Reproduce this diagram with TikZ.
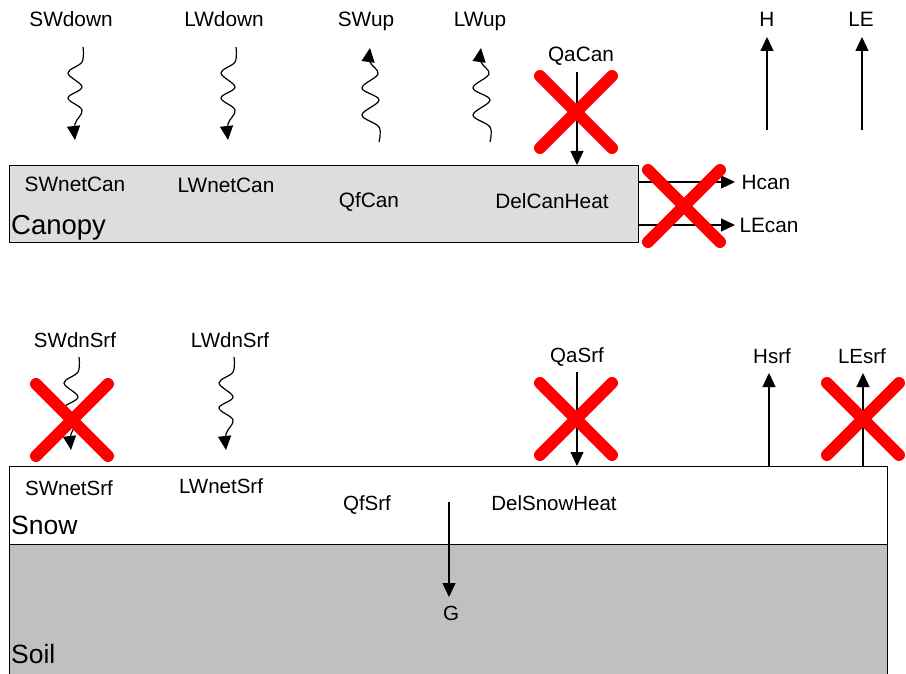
\documentclass[tikz,border=0pt]{standalone}
\usepackage{fontspec}
\setmainfont{Liberation Sans}
\usetikzlibrary{arrows.meta}
\definecolor{cangray}{HTML}{DDDDDD}
\definecolor{soilgray}{HTML}{C0C0C0}
\begin{document}
\begin{tikzpicture}[x=1pt,y=-1pt,
  lbl/.style={inner sep=0pt,text height=14.7pt,text depth=0pt,font=\fontsize{20.8}{22}\selectfont},
  inlbl/.style={inner sep=0pt,text height=14.7pt,text depth=0pt,font=\fontsize{20.8}{22}\selectfont},
  botlbl/.style={inner sep=0pt,text height=14.7pt,text depth=0pt,font=\fontsize{20.5}{22}\selectfont},
  canlbl/.style={inner sep=0pt,text height=19.6pt,text depth=0pt,anchor=west,font=\fontsize{27.5}{29}\selectfont},
  biglbl/.style={inner sep=0pt,text height=18.9pt,text depth=0pt,anchor=west,font=\fontsize{26.5}{28}\selectfont},
  layer/.style={draw=black,line width=1.2pt,inner sep=0pt,anchor=north west},
  flux/.style={line width=1.2pt,-{Triangle[length=14pt,width=13pt]}},
  dwave/.pic={\draw[flux] plot[smooth,tension=0.6] coordinates {(0,0) (-1,15) (-15,26) (-1,40) (-15,51) (-1,63) (-8,77) (-8,93)};},
  uwave/.pic={\draw[flux] plot[smooth,tension=0.6] coordinates {(0,0) (0,-15) (-17,-27) (0,-42) (-17,-54) (-1,-68) (-9,-80) (-9,-94)};},
  nox/.pic={\draw[red,line width=12pt,line cap=round] (-36,-36) -- (36,36) (-36,36) -- (36,-36);}
]
\useasboundingbox (0,0) rectangle (906,674);

% layers
\node[layer,fill=soilgray,minimum width=878pt,minimum height=131pt] (soil) at (9,544) {};
\node[layer,fill=white,minimum width=878pt,minimum height=78pt] (snow) at (9,466) {};
\node[layer,fill=cangray,minimum width=629pt,minimum height=77pt] (can) at (9,165) {};

% canopy labels
\node[inlbl] (swnetcan) at (75,184) {SWnetCan};
\node[inlbl] (lwnetcan) at (226,185) {LWnetCan};
\node[inlbl] (qfcan) at (369,200) {QfCan};
\node[inlbl] (delcan) at (552,201) {DelCanHeat};
\node[canlbl] (canopy) at (11,225) {Canopy};

% snow / soil labels
\node[botlbl] (swnetsrf) at (69,488) {SWnetSrf};
\node[botlbl] (lwnetsrf) at (221,486) {LWnetSrf};
\node[botlbl] (qfsrf) at (367,503) {QfSrf};
\node[botlbl] (delsnow) at (554,503) {DelSnowHeat};
\node[biglbl] (snowl) at (11,525) {Snow};
\node[biglbl] (soill) at (11,654) {Soil};
\node[botlbl] (g) at (451,613) {G};

% top labels
\node[lbl] (swdown) at (71,19) {SWdown};
\node[lbl] (lwdown) at (224,19) {LWdown};
\node[lbl] (swup) at (366,19) {SWup};
\node[lbl] (lwup) at (480,19) {LWup};
\node[lbl] (qacan) at (581,54) {QaCan};
\node[lbl] (h) at (767,19) {H};
\node[lbl] (le) at (861,19) {LE};
\node[lbl] (hcan) at (766,182) {Hcan};
\node[lbl] (lecan) at (769,225) {LEcan};

% surface labels
\node[botlbl] (swdnsrf) at (75,340) {SWdnSrf};
\node[botlbl] (lwdnsrf) at (230,340) {LWdnSrf};
\node[botlbl] (qasrf) at (577,355) {QaSrf};
\node[botlbl] (hsrf) at (772,356) {Hsrf};
\node[botlbl] (lesrf) at (862,356) {LEsrf};

% wavy radiation arrows
\pic at (83,47) {dwave};
\pic at (236,47) {dwave};
\pic at (379,142) {uwave};
\pic at (490,142) {uwave};
\pic at (79,357) {dwave};
\pic at (234,357) {dwave};

% straight flux arrows
\coordinate (qacan0) at (577,72);
\draw[flux] (qacan0) -- (qacan0 |- can.north);
\coordinate (h0) at (767,130);
\coordinate (h1) at (767,37);
\draw[flux] (h0) -- (h1);
\coordinate (le0) at (862,130);
\coordinate (le1) at (862,37);
\draw[flux] (le0) -- (le1);
\coordinate (hcanend) at (735,182);
\draw[flux] (can.east |- hcanend) -- (hcanend);
\coordinate (lecanend) at (735,225);
\draw[flux] (can.east |- lecanend) -- (lecanend);

\coordinate (qasrf0) at (577,372);
\draw[flux] (qasrf0) -- (qasrf0 |- snow.north);
\coordinate (hsrf1) at (769,373);
\draw[flux] (hsrf1 |- snow.north) -- (hsrf1);
\coordinate (lesrf1) at (863,373);
\draw[flux] (lesrf1 |- snow.north) -- (lesrf1);
\coordinate (g0) at (449,502);
\coordinate (g1) at (449,597);
\draw[flux] (g0) -- (g1);

% crossed-out fluxes
\pic at (576,112) {nox};
\pic at (684,206) {nox};
\pic at (72,420) {nox};
\pic at (576,419) {nox};
\pic at (863,419) {nox};
\end{tikzpicture}
\end{document}
